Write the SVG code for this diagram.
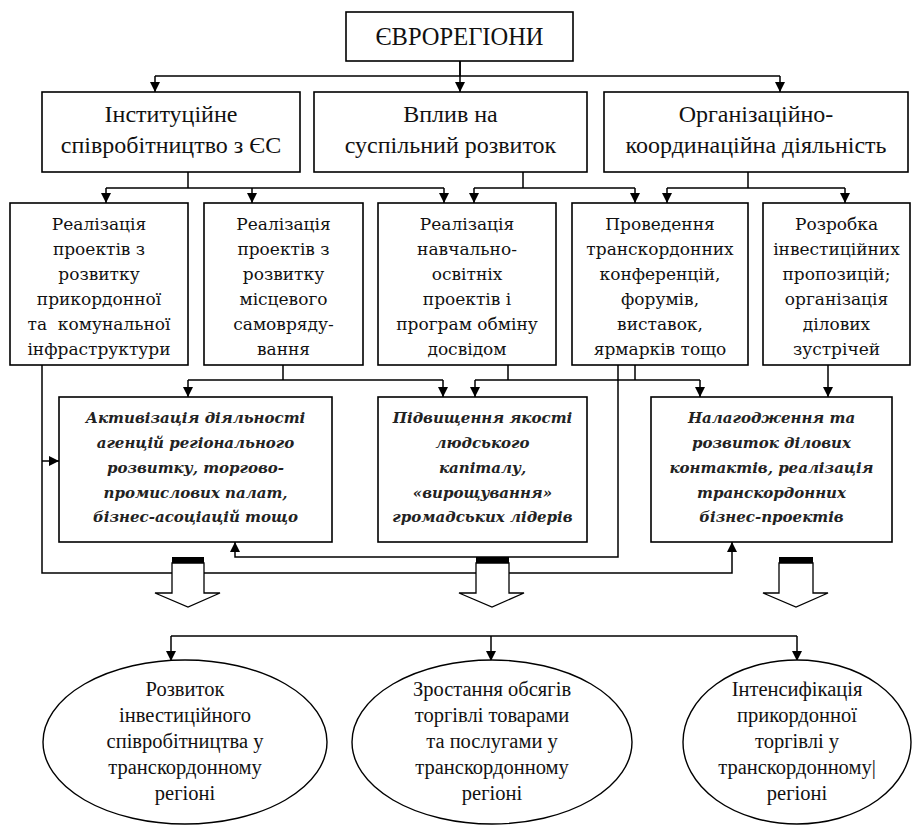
<svg xmlns="http://www.w3.org/2000/svg" width="914" height="825" viewBox="0 0 914 825">
<defs>
<marker id="ah" viewBox="0 0 10 10" refX="10" refY="5" markerWidth="10" markerHeight="10" markerUnits="userSpaceOnUse" orient="auto">
<path d="M0,0 L10,5 L0,10 z" fill="#000"/>
</marker>
</defs>
<style>
.box{fill:#fff;stroke:#000;stroke-width:1.6}
.ell{fill:#fff;stroke:#000;stroke-width:1.4}
.c{fill:none;stroke:#000;stroke-width:1.5}
.a{fill:none;stroke:#000;stroke-width:1.5;marker-end:url(#ah)}
.blk{fill:#fff;stroke:#000;stroke-width:1.3}
</style>
<rect width="914" height="825" fill="#fff"/>

<g id="connectors">
<path class="c" d="M460,61 V76 M155,76 H780"/>
<path class="a" d="M155,76 V92"/>
<path class="a" d="M460,61 V92"/>
<path class="a" d="M780,76 V92"/>

<path class="c" d="M188,172 V188 M106,188 H444"/>
<path class="a" d="M106,188 V203"/>
<path class="a" d="M252,188 V203"/>
<path class="a" d="M444,188 V203"/>

<path class="c" d="M523,172 V188 M474,188 H635"/>
<path class="a" d="M474,188 V203"/>
<path class="a" d="M635,188 V203"/>

<path class="c" d="M748,172 V188 M667,188 H845"/>
<path class="a" d="M667,188 V203"/>
<path class="a" d="M845,188 V203"/>

<path class="a" d="M42,365 V573 H732 V542"/>
<path class="a" d="M42,461 H59"/>

<path class="c" d="M283,365 V380 M188,380 H443"/>
<path class="a" d="M188,380 V397"/>
<path class="a" d="M443,380 V397"/>

<path class="c" d="M508,365 V380 M635,365 V380 M475,380 H700"/>
<path class="a" d="M475,380 V397"/>
<path class="a" d="M700,380 V397"/>

<path class="a" d="M618,365 V557 H235 V542"/>
<path class="a" d="M828,365 V397"/>

<path class="c" d="M171,636 H797"/>
<path class="a" d="M171,636 V661"/>
<path class="a" d="M491,636 V661"/>
<path class="a" d="M797,636 V661"/>
</g>

<g id="block-arrows">
<g id="barrow1">
<polygon class="blk" points="172,563 172,593 155,593 188,607 220,593 204,593 204,563"/>
<rect x="172" y="557" width="32" height="6" fill="#000"/>
</g>
<g id="barrow2">
<polygon class="blk" points="476,563 476,593 459,593 492,607 524,593 509,593 509,563"/>
<rect x="476" y="557" width="33" height="6" fill="#000"/>
</g>
<g id="barrow3">
<polygon class="blk" points="779,563 779,593 763,593 796,607 828,593 813,593 813,563"/>
<rect x="779" y="557" width="34" height="6" fill="#000"/>
</g>
</g>

<g id="euroregions">
<rect class="box" x="346" y="12" width="227" height="49"/>
<text font-family="Liberation Serif, Times New Roman, serif" font-size="24.5" fill="#111" text-anchor="middle" x="459.5" y="45">ЄВРОРЕГІОНИ</text>
</g>

<g id="institutional" font-family="Liberation Serif, Times New Roman, serif" font-size="24" fill="#111" text-anchor="middle">
<rect class="box" x="42" y="92" width="258" height="80"/>
<text x="171" y="122">Інституційне</text>
<text x="171" y="153">співробітництво з ЄС</text>
</g>
<g id="influence" font-family="Liberation Serif, Times New Roman, serif" font-size="24" fill="#111" text-anchor="middle">
<rect class="box" x="314" y="92" width="273" height="80"/>
<text x="450.5" y="122">Вплив на</text>
<text x="450.5" y="153">суспільний розвиток</text>
</g>
<g id="organizational" font-family="Liberation Serif, Times New Roman, serif" font-size="24" fill="#111" text-anchor="middle">
<rect class="box" x="604" y="92" width="304" height="80"/>
<text x="756" y="122">Організаційно-</text>
<text x="756" y="153">координаційна діяльність</text>
</g>

<g id="infra" font-family="DejaVu Serif, Liberation Serif, serif" font-size="17" fill="#111" text-anchor="middle">
<rect class="box" x="10" y="203" width="178" height="162"/>
<text x="99" y="230">Реалізація</text>
<text x="99" y="255">проектів з</text>
<text x="99" y="280">розвитку</text>
<text x="99" y="305">прикордонної</text>
<text x="99" y="330" xml:space="preserve">та  комунальної</text>
<text x="99" y="355">інфраструктури</text>
</g>
<g id="local" font-family="DejaVu Serif, Liberation Serif, serif" font-size="17" fill="#111" text-anchor="middle">
<rect class="box" x="204" y="203" width="159" height="162"/>
<text x="283.5" y="230">Реалізація</text>
<text x="283.5" y="255">проектів з</text>
<text x="283.5" y="280">розвитку</text>
<text x="283.5" y="305">місцевого</text>
<text x="283.5" y="330">самовряду-</text>
<text x="283.5" y="355">вання</text>
</g>
<g id="education" font-family="DejaVu Serif, Liberation Serif, serif" font-size="17" fill="#111" text-anchor="middle">
<rect class="box" x="378" y="203" width="178" height="162"/>
<text x="467" y="230">Реалізація</text>
<text x="467" y="255">навчально-</text>
<text x="467" y="280">освітніх</text>
<text x="467" y="305">проектів і</text>
<text x="467" y="330">програм обміну</text>
<text x="467" y="355">досвідом</text>
</g>
<g id="conferences" font-family="DejaVu Serif, Liberation Serif, serif" font-size="17" fill="#111" text-anchor="middle">
<rect class="box" x="572" y="203" width="176" height="162"/>
<text x="660" y="230">Проведення</text>
<text x="660" y="255">транскордонних</text>
<text x="660" y="280">конференцій,</text>
<text x="660" y="305">форумів,</text>
<text x="660" y="330">виставок,</text>
<text x="660" y="355">ярмарків тощо</text>
</g>
<g id="investment" font-family="DejaVu Serif, Liberation Serif, serif" font-size="17" fill="#111" text-anchor="middle">
<rect class="box" x="763" y="203" width="147" height="162"/>
<text x="836.5" y="230">Розробка</text>
<text x="836.5" y="255">інвестиційних</text>
<text x="836.5" y="280">пропозицій;</text>
<text x="836.5" y="305">організація</text>
<text x="836.5" y="330">ділових</text>
<text x="836.5" y="355">зустрічей</text>
</g>

<g id="activation" font-family="DejaVu Serif, Liberation Serif, serif" font-size="15" font-style="italic" font-weight="bold" fill="#222" text-anchor="middle">
<rect class="box" x="59" y="397" width="273" height="145"/>
<text x="195.5" y="423">Активізація діяльності</text>
<text x="195.5" y="448">агенцій регіонального</text>
<text x="195.5" y="473">розвитку, торгово-</text>
<text x="195.5" y="498">промислових палат,</text>
<text x="195.5" y="522">бізнес-асоціацій тощо</text>
</g>
<g id="human-capital" font-family="DejaVu Serif, Liberation Serif, serif" font-size="15" font-style="italic" font-weight="bold" fill="#222" text-anchor="middle">
<rect class="box" x="378" y="397" width="209" height="145"/>
<text x="482.5" y="423">Підвищення якості</text>
<text x="482.5" y="448">людського</text>
<text x="482.5" y="473">капіталу,</text>
<text x="482.5" y="498">«вирощування»</text>
<text x="482.5" y="522">громадських лідерів</text>
</g>
<g id="business" font-family="DejaVu Serif, Liberation Serif, serif" font-size="15" font-style="italic" font-weight="bold" fill="#222" text-anchor="middle">
<rect class="box" x="651" y="397" width="241" height="145"/>
<text x="771.5" y="423">Налагодження та</text>
<text x="771.5" y="448">розвиток ділових</text>
<text x="771.5" y="473">контактів, реалізація</text>
<text x="771.5" y="498">транскордонних</text>
<text x="771.5" y="522">бізнес-проектів</text>
</g>

<g id="invest-coop" font-family="Liberation Serif, Times New Roman, serif" font-size="20.5" fill="#111" text-anchor="middle">
<ellipse class="ell" cx="185" cy="742" rx="142" ry="82"/>
<text x="185" y="696">Розвиток</text>
<text x="185" y="722">інвестиційного</text>
<text x="185" y="748">співробітництва у</text>
<text x="185" y="774">транскордонному</text>
<text x="185" y="800">регіоні</text>
</g>
<g id="trade-growth" font-family="Liberation Serif, Times New Roman, serif" font-size="20.5" fill="#111" text-anchor="middle">
<ellipse class="ell" cx="492" cy="742" rx="140" ry="82"/>
<text x="492" y="696">Зростання обсягів</text>
<text x="492" y="722">торгівлі товарами</text>
<text x="492" y="748">та послугами у</text>
<text x="492" y="774">транскордонному</text>
<text x="492" y="800">регіоні</text>
</g>
<g id="border-trade" font-family="Liberation Serif, Times New Roman, serif" font-size="20.5" fill="#111" text-anchor="middle">
<ellipse class="ell" cx="797" cy="742" rx="114" ry="82"/>
<text x="797" y="696">Інтенсифікація</text>
<text x="797" y="722">прикордонної</text>
<text x="797" y="748">торгівлі у</text>
<text x="797" y="774">транскордонному|</text>
<text x="797" y="800">регіоні</text>
</g>
</svg>
